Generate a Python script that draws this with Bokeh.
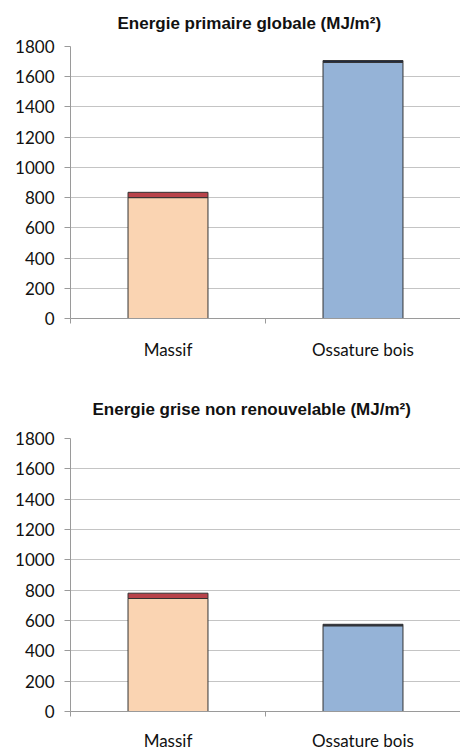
from bokeh.plotting import figure
from bokeh.layouts import column
from bokeh.models import ColumnDataSource, Range1d, FixedTicker
from bokeh.embed import file_html
from bokeh.resources import INLINE

categories = ["Massif", "Ossature bois"]
series = ["base", "top"]

# Chart 1: Energie primaire globale (MJ/m2)
primaire_base = [800, 1695]
primaire_top = [35, 12]

# Chart 2: Energie grise non renouvelable (MJ/m2)
grise_base = [745, 565]
grise_top = [35, 10]

y_ticks = [0, 200, 400, 600, 800, 1000, 1200, 1400, 1600, 1800]

base_colors = ["#FAD4B2", "#95B3D7"]
top_colors = ["#B8434A", "#1F2A44"]


def make_chart(title, base, top, height, top_border, bottom_border, label_standoff,
               title_offset, title_standoff):
    xs = [i + 0.5 for i in range(len(categories))]
    src = ColumnDataSource(dict(
        x=xs,
        base=base,
        top=top,
        bottom0=[0] * len(base),
        total=[b + t for b, t in zip(base, top)],
        base_color=base_colors,
        top_color=top_colors,
    ))
    p = figure(width=460, height=height, output_backend="svg", toolbar_location=None,
               x_range=Range1d(0, len(categories)), y_range=Range1d(0, 1800),
               min_border_left=70, min_border_right=0,
               min_border_top=top_border, min_border_bottom=bottom_border)
    p.outline_line_color = None
    p.background_fill_color = "white"
    p.border_fill_color = "white"

    p.title.text = title
    p.title.text_font = "Liberation Sans"
    p.title.text_font_style = "bold"
    p.title.text_font_size = "17px"
    p.title.text_color = "#111111"
    p.title.align = "left"
    p.title.vertical_align = "top"
    p.title.offset = title_offset
    p.title.standoff = title_standoff

    p.vbar(x="x", bottom="bottom0", top="base", width=0.41, source=src,
           fill_color="base_color", line_color="#333333", line_width=1)
    p.vbar(x="x", bottom="base", top="total", width=0.41, source=src,
           fill_color="top_color", line_color="#333333", line_width=1)

    # y axis
    p.yaxis.ticker = FixedTicker(ticks=y_ticks)
    p.yaxis.axis_line_color = "#9A9A9A"
    p.yaxis.major_tick_line_color = "#9A9A9A"
    p.yaxis.major_tick_out = 6
    p.yaxis.major_tick_in = 0
    p.yaxis.minor_tick_line_color = None
    p.yaxis.major_label_text_font = "Lato"
    p.yaxis.major_label_text_font_size = "17px"
    p.yaxis.major_label_text_color = "#111111"
    p.yaxis.major_label_standoff = 10

    # x axis
    p.xaxis.ticker = FixedTicker(ticks=xs, minor_ticks=[0, 1, 2])
    p.xaxis.major_label_overrides = {x: c for x, c in zip(xs, categories)}
    p.xaxis.axis_line_color = "#9A9A9A"
    p.xaxis.major_tick_line_color = None
    p.xaxis.major_tick_out = 0
    p.xaxis.major_tick_in = 0
    p.xaxis.minor_tick_line_color = "#9A9A9A"
    p.xaxis.minor_tick_out = 5
    p.xaxis.minor_tick_in = 0
    p.xaxis.major_label_text_font = "Lato"
    p.xaxis.major_label_text_font_size = "17px"
    p.xaxis.major_label_text_color = "#111111"
    p.xaxis.major_label_standoff = label_standoff

    p.xgrid.grid_line_color = None
    p.ygrid.ticker = FixedTicker(ticks=y_ticks)
    p.ygrid.grid_line_color = "#C4C4C4"
    p.ygrid.grid_line_width = 1
    return p


p1 = make_chart("Energie primaire  globale (MJ/m²)", primaire_base, primaire_top,
                378, 46, 60, 15, 47, 24)
p2 = make_chart("Energie grise non renouvelable (MJ/m²)", grise_base, grise_top,
                375, 60, 41, 13, 22, 35)

layout = column(p1, p2, spacing=0)
open("out.html", "w").write(file_html(layout, INLINE))
